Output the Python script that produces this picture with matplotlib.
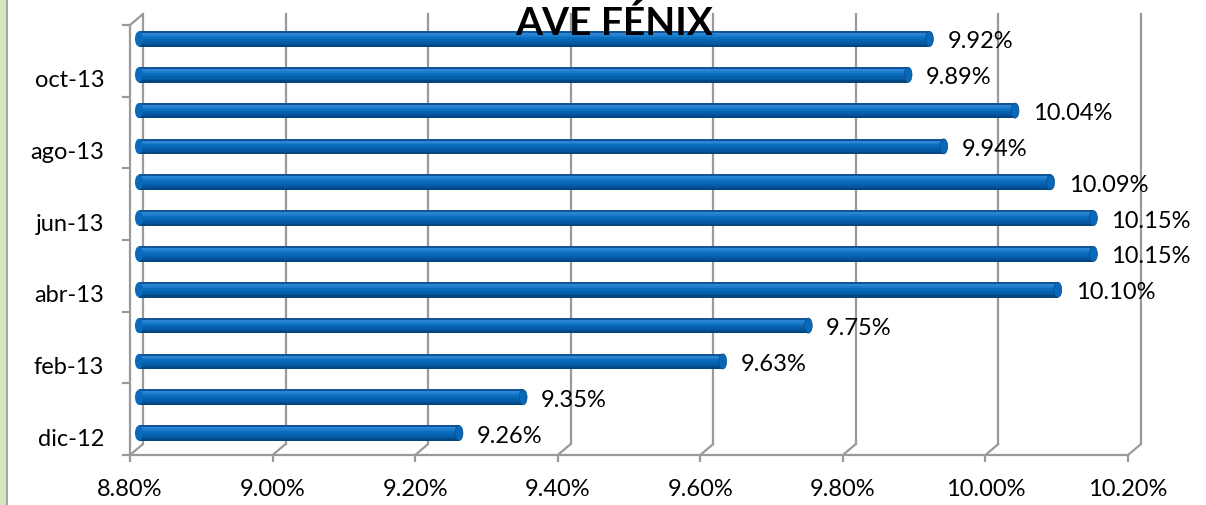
import matplotlib
matplotlib.use('Agg')
import matplotlib.pyplot as plt
from matplotlib.patches import Ellipse, Rectangle, ConnectionPatch
from matplotlib.transforms import offset_copy
import numpy as np

plt.rcParams['font.family'] = ['Lato', 'DejaVu Sans']

months = ['dic-12', 'ene-13', 'feb-13', 'mar-13', 'abr-13', 'may-13',
          'jun-13', 'jul-13', 'ago-13', 'sep-13', 'oct-13', 'nov-13']
rates = [9.26, 9.35, 9.63, 9.75, 10.10, 10.15,
         10.15, 10.09, 9.94, 10.04, 9.89, 9.92]
x_ticks = [8.80, 9.00, 9.20, 9.40, 9.60, 9.80, 10.00, 10.20]
title = 'AVE FÉNIX'

W, H = 1206, 505
grid_c = '#9a9a9a'
fs = 17
# cylinder shading, top to bottom
shades = ['#0f5597', '#2a86d4', '#1a7acb', '#0a6dbe', '#0566b6',
          '#045ea9', '#03549a', '#02457f']

fig = plt.figure(figsize=(W / 100, H / 100), dpi=100)
ax = fig.add_axes([130 / W, 50 / H, 998 / W, 430 / H])
ax.set_xlim(x_ticks[0], x_ticks[-1])
ax.set_ylim(-0.5, len(months) - 0.5)

# fake 3d: back wall and bar depth offsets
back = offset_copy(ax.transData, fig=fig, x=13, y=11, units='dots')
mid = offset_copy(ax.transData, fig=fig, x=5, y=4, units='dots')

y_lo, y_hi = -0.5, len(months) - 0.5
for xt in x_ticks:
    ax.plot([xt, xt], [y_lo, y_hi], color=grid_c, lw=1.6,
            transform=back, clip_on=False, zorder=1)
    ax.add_artist(ConnectionPatch((xt, y_lo), (xt, y_lo), coordsA=ax.transData,
                                  coordsB=back, color=grid_c, lw=1.6, zorder=1))
ax.add_artist(ConnectionPatch((x_ticks[0], y_hi), (x_ticks[0], y_hi),
                              coordsA=ax.transData, coordsB=back,
                              color=grid_c, lw=1.6, zorder=1))

# bars
ypos = np.arange(len(months))
vals = np.array(rates)
h = 0.43
cap = 0.011
n = len(shades)
for k, c in enumerate(shades):
    yc = ypos + h / 2 - (k + 0.5) * h / n
    ax.barh(yc, vals - x_ticks[0] - cap, left=x_ticks[0] + cap / 2,
            height=h / n * 1.05, color=c, lw=0, transform=mid,
            clip_on=False, zorder=2)
for y, v in zip(ypos, vals):
    ax.add_patch(Ellipse((x_ticks[0] + cap / 2, y), cap, h * 0.98,
                         facecolor='#0a6abb', edgecolor='none',
                         transform=mid, clip_on=False, zorder=2))
    ax.add_patch(Ellipse((v - cap / 2, y), cap, h * 0.98, facecolor='#0868b8',
                         edgecolor='#0a4c88', lw=0.5, transform=mid,
                         clip_on=False, zorder=3))
    ax.annotate(f'{v:.2f}%', (v, y), xytext=(19, 1), textcoords='offset pixels',
                ha='left', va='center', fontsize=fs, color='black', zorder=4)

# axes styling
for s in ['top', 'right']:
    ax.spines[s].set_visible(False)
for s in ['left', 'bottom']:
    ax.spines[s].set_color(grid_c)
    ax.spines[s].set_linewidth(1.6)
ax.set_xticks(x_ticks)
ax.set_xticklabels([f'{t:.2f}%' for t in x_ticks])
ax.tick_params(axis='x', length=5, width=1.6, color=grid_c, pad=12,
               labelsize=fs)
ax.set_yticks(np.arange(y_lo, y_hi + 0.1, 2))
ax.set_yticklabels([])
ax.tick_params(axis='y', which='major', length=6, width=1.6, color=grid_c)
ax.set_yticks(ypos[::2], minor=True)
ax.set_yticklabels(months[::2], minor=True)
ax.tick_params(axis='y', which='minor', length=0, pad=18.5, labelsize=fs)

# green frame edge on the left
fig.add_artist(Rectangle((0, 0), 6 / W, 1, transform=fig.transFigure,
                         facecolor='#d7e4bd', edgecolor='none'))
fig.add_artist(Rectangle((6 / W, 0), 2 / W, 1, transform=fig.transFigure,
                         facecolor='#a5a5a5', edgecolor='none'))

fig.text(614 / W, (H - 35) / H, title, ha='center', va='baseline',
         fontsize=28, fontweight='bold', zorder=10)

fig.savefig('out.png', dpi=100)
